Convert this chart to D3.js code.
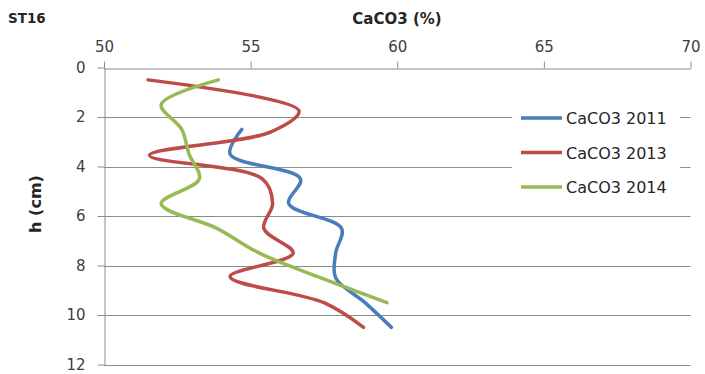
<!DOCTYPE html>
<html><head><meta charset="utf-8">
<script src="https://cdn.jsdelivr.net/npm/d3@7"></script>
<style>body{margin:0;background:#fff}svg{display:block}</style>
</head><body>
<svg id="c" width="705" height="374"></svg>
<script>
const xTicks = [50, 55, 60, 65, 70];
const yTicks = [0, 2, 4, 6, 8, 10, 12];
const seriesNames = ["CaCO3 2011", "CaCO3 2013", "CaCO3 2014"];
const depth2011 = [2.5, 3.5, 4.5, 5.5, 6.5, 7.5, 8.5, 9.5, 10.5];
const caco2011 = [54.7, 54.3, 56.7, 56.3, 58.1, 57.9, 57.9, 58.9, 59.8];
const depth2013 = [0.5, 1.75, 2.6, 3.55, 4.5, 5.5, 6.5, 7.5, 8.45, 9.5, 10.5];
const caco2013 = [51.5, 56.65, 55.7, 51.55, 55.4, 55.75, 55.45, 56.45, 54.3, 57.5, 58.85];
const depth2014 = [0.5, 1.5, 2.5, 3.5, 4.5, 5.5, 6.5, 7.5, 8.5, 9.5];
const caco2014 = [53.9, 51.95, 52.65, 52.9, 53.25, 51.95, 53.85, 55.3, 57.4, 59.65];
const colors = ["#4A7EBB", "#BE4B48", "#98B954"];

const svg = d3.select("#c");
const x = d3.scaleLinear().domain([50, 70]).range([104, 690.5]);
const y = d3.scaleLinear().domain([0, 12]).range([67.5, 364.5]);
const grid = "#8c8c8c";
const font = "DejaVu Sans, Verdana, sans-serif";

// gridlines
svg.append("g").selectAll("line").data(yTicks.slice(1)).join("line")
  .attr("x1", x(50)).attr("x2", x(70))
  .attr("y1", d => Math.round(y(d)) + 0.5).attr("y2", d => Math.round(y(d)) + 0.5)
  .attr("stroke", grid).attr("stroke-width", 1);

// top x axis
const xa = svg.append("g").attr("transform", `translate(0,${Math.round(y(0)) + 0.5})`)
  .call(d3.axisTop(x).tickValues(xTicks).tickSize(7).tickSizeOuter(0).tickPadding(10));
// left y axis
const ya = svg.append("g").attr("transform", `translate(${Math.round(x(50)) + 0.5},0)`)
  .call(d3.axisLeft(y).tickValues(yTicks).tickSize(7).tickSizeOuter(0).tickPadding(12));
[xa, ya].forEach(a => {
  a.select(".domain").attr("stroke", grid);
  a.selectAll(".tick line").attr("stroke", grid);
  a.selectAll("text").attr("font-family", font).attr("font-size", 15).attr("fill", "#404040");
});

// series
const line = d3.line().x(d => x(d[1])).y(d => y(d[0])).curve(d3.curveCatmullRom.alpha(0.5));
const series = [
  d3.zip(depth2011, caco2011),
  d3.zip(depth2013, caco2013),
  d3.zip(depth2014, caco2014)
];
svg.append("g").selectAll("path").data(series).join("path")
  .attr("d", line).attr("fill", "none")
  .attr("stroke", (d, i) => colors[i]).attr("stroke-width", 3.5)
  .attr("stroke-linecap", "round").attr("stroke-linejoin", "round");

// legend
const lg = svg.append("g");
lg.append("rect").attr("x", 512).attr("y", 100).attr("width", 168).attr("height", 105).attr("fill", "#fff");
seriesNames.forEach((n, i) => {
  const yy = 118 + i * 34.5;
  lg.append("line").attr("x1", 521).attr("x2", 562).attr("y1", yy).attr("y2", yy)
    .attr("stroke", colors[i]).attr("stroke-width", 3.5);
  lg.append("text").attr("x", 566).attr("y", yy + 6).text(n)
    .attr("font-family", font).attr("font-size", 16).attr("fill", "#262626");
});

// titles
svg.append("text").attr("x", 8).attr("y", 23).text("ST16")
  .attr("font-family", font).attr("font-weight", "bold").attr("font-size", 13.5).attr("fill", "#262626");
svg.append("text").attr("x", 397).attr("y", 24).attr("text-anchor", "middle").text("CaCO3 (%)")
  .attr("font-family", font).attr("font-weight", "bold").attr("font-size", 15).attr("fill", "#262626");
svg.append("text").attr("transform", "translate(41,204) rotate(-90)").attr("text-anchor", "middle").text("h (cm)")
  .attr("font-family", font).attr("font-weight", "bold").attr("font-size", 16).attr("fill", "#262626");
</script>
</body></html>
